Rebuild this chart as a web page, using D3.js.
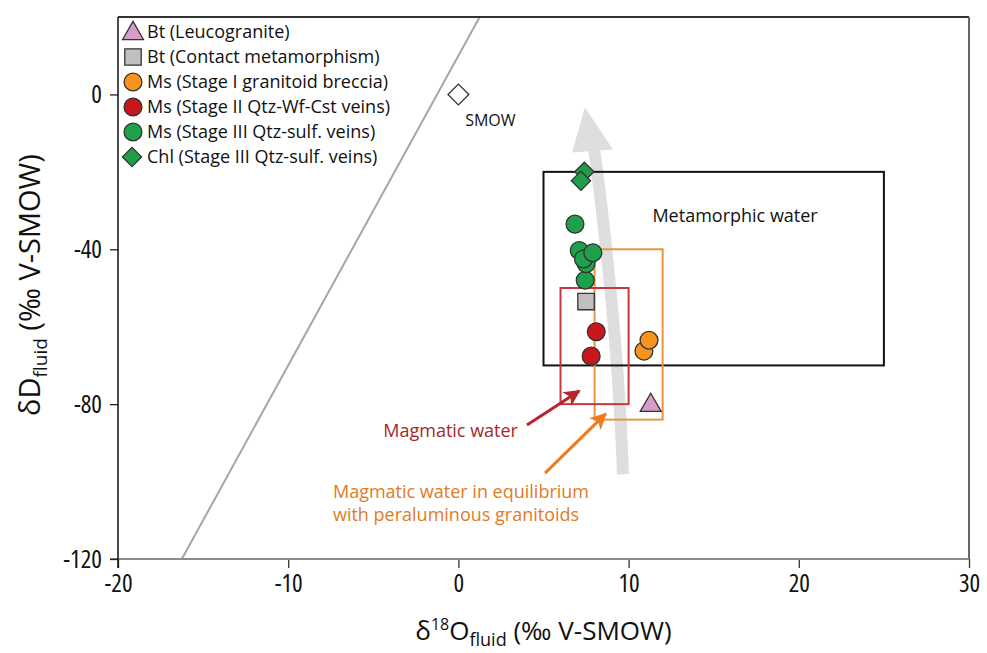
<!DOCTYPE html>
<html>
<head>
<meta charset="utf-8">
<script src="https://cdn.jsdelivr.net/npm/d3@7"></script>
<style>
  body { margin: 0; background: #fff; }
  text { font-family: "Open Sans", "Noto Sans", sans-serif; }
  .narrow { font-stretch: 85%; }
</style>
</head>
<body>
<script>
const margin = {top: 17, right: 18, bottom: 94, left: 118};
const width = 987 - margin.left - margin.right;
const height = 653 - margin.top - margin.bottom;

// data (δ18O fluid, δD fluid)
const leucogranite = [[11.3, -80.3]];
const contactMeta = [[7.5, -53.5]];
const stage1Ms = [[10.9, -66.3], [11.2, -63.5]];
const stage2Ms = [[8.1, -61.3], [7.8, -67.6]];
const stage3Ms = [[6.85, -33.5], [7.1, -40.3], [7.45, -48.0], [7.5, -43.7], [7.35, -42.5], [7.9, -40.9]];
const stage3Chl = [[7.4, -20.0], [7.2, -22.3]];
const smow = [[0, 0]];

const xTicks = [-20, -10, 0, 10, 20, 30];
const yTicks = [0, -40, -80, -120];

// reference fields [x0, x1, y0, y1]
const metamorphicBox = [5, 25, -70, -20];
const magmaticBox = [6, 10, -80, -50];
const peraluminousBox = [8, 12, -84, -40];
const meteoricLine = [[-16.25, -120], [1.25, 20]];
const trendShaft = [[9.67, -98.1], [9.49, -79], [9.02, -53.2], [8.38, -27.4], [7.97, -14.0]];
const trendHead = [[7.44, -3.4], [6.67, -15.0], [9.08, -14.2]];
const magmaticArrow = [[4.03, -85.4], [7.1, -76.6]];
const peraluminousArrow = [[5.09, -97.8], [8.65, -82.5]];

const legendItems = [
  {label: "Bt (Leucogranite)", shape: "triangle", fill: "#d79dc9"},
  {label: "Bt (Contact metamorphism)", shape: "square", fill: "#c0c0c0"},
  {label: "Ms (Stage I granitoid breccia)", shape: "circle", fill: "#f7941d"},
  {label: "Ms (Stage II Qtz-Wf-Cst veins)", shape: "circle", fill: "#c8161d"},
  {label: "Ms (Stage III Qtz-sulf. veins)", shape: "circle", fill: "#1fa04c"},
  {label: "Chl (Stage III Qtz-sulf. veins)", shape: "diamond", fill: "#1f9e4a"}
];

let svg = d3.select("body").append("svg")
  .attr("width", 987)
  .attr("height", 653);

let x = d3.scaleLinear().domain([-20, 30]).range([margin.left, margin.left + width]);
let y = d3.scaleLinear().domain([-120, 20]).range([margin.top + height, margin.top]);

// diamonds are squares turned 45 degrees
let symbols = {
  triangle: {gen: d3.symbol().type(d3.symbolTriangle).size(190), rot: 0},
  square: {gen: d3.symbol().type(d3.symbolSquare).size(270), rot: 0},
  circle: {gen: d3.symbol().type(d3.symbolCircle).size(250), rot: 0},
  diamond: {gen: d3.symbol().type(d3.symbolSquare).size(185), rot: 45},
  openDiamond: {gen: d3.symbol().type(d3.symbolSquare).size(215), rot: 45}
};

// meteoric water line
svg.append("line")
  .attr("x1", x(meteoricLine[0][0])).attr("y1", y(meteoricLine[0][1]))
  .attr("x2", x(meteoricLine[1][0])).attr("y2", y(meteoricLine[1][1]))
  .attr("stroke", "#a6a6a6").attr("stroke-width", 2);

// grey trend arrow
svg.append("path")
  .attr("d", d3.line().x(d => x(d[0])).y(d => y(d[1])).curve(d3.curveBasis)(trendShaft))
  .attr("fill", "none").attr("stroke", "#dedede").attr("stroke-width", 12);
svg.append("path")
  .attr("d", "M" + trendHead.map(d => x(d[0]) + "," + y(d[1])).join("L") + "Z")
  .attr("fill", "#dedede");

let box = function(b, color, w){
  svg.append("rect")
    .attr("x", x(b[0])).attr("y", y(b[3]))
    .attr("width", x(b[1]) - x(b[0]))
    .attr("height", y(b[2]) - y(b[3]))
    .attr("fill", "none").attr("stroke", color).attr("stroke-width", w);
}
box(metamorphicBox, "#111", 2);
box(peraluminousBox, "#e6963f", 2);
box(magmaticBox, "#c23a3e", 2);

// annotation arrows
let defs = svg.append("defs");
[["redHead", "#b8262c"], ["orangeHead", "#ee7b1f"]].forEach(function(m){
  defs.append("marker")
    .attr("id", m[0])
    .attr("viewBox", "0 0 10 10")
    .attr("refX", 9).attr("refY", 5)
    .attr("markerWidth", 6.5).attr("markerHeight", 5.5)
    .attr("markerUnits", "strokeWidth")
    .attr("orient", "auto")
    .append("path").attr("d", "M0,0L10,5L0,10L2.5,5Z").attr("fill", m[1]);
});
svg.append("line")
  .attr("x1", x(magmaticArrow[0][0])).attr("y1", y(magmaticArrow[0][1]))
  .attr("x2", x(magmaticArrow[1][0])).attr("y2", y(magmaticArrow[1][1]))
  .attr("stroke", "#b8262c").attr("stroke-width", 3)
  .attr("marker-end", "url(#redHead)");
svg.append("line")
  .attr("x1", x(peraluminousArrow[0][0])).attr("y1", y(peraluminousArrow[0][1]))
  .attr("x2", x(peraluminousArrow[1][0])).attr("y2", y(peraluminousArrow[1][1]))
  .attr("stroke", "#ee7b1f").attr("stroke-width", 3)
  .attr("marker-end", "url(#orangeHead)");

svg.append("text")
  .attr("x", x(11.4)).attr("y", y(-33))
  .attr("font-size", 18).attr("fill", "#111")
  .text("Metamorphic water");
svg.append("text")
  .attr("x", x(3.5)).attr("y", y(-88.5))
  .attr("text-anchor", "end")
  .attr("font-size", 18).attr("fill", "#a8262c")
  .text("Magmatic water");
let orangeText = svg.append("text")
  .attr("font-size", 18).attr("fill", "#e27a26");
orangeText.append("tspan").attr("x", x(-7.37)).attr("y", y(-104.3)).text("Magmatic water in equilibrium");
orangeText.append("tspan").attr("x", x(-7.37)).attr("y", y(-110.2)).text("with peraluminous granitoids");

// frame and axes
svg.append("line")
  .attr("x1", x(-20)).attr("x2", x(30)).attr("y1", y(20)).attr("y2", y(20))
  .attr("stroke", "#333").attr("stroke-width", 2);
svg.append("line")
  .attr("x1", x(30)).attr("x2", x(30)).attr("y1", y(20)).attr("y2", y(-120))
  .attr("stroke", "#666").attr("stroke-width", 2);

let xAxis = svg.append("g")
  .attr("transform", "translate(0," + y(-120) + ")")
  .call(d3.axisBottom(x).tickValues(xTicks).tickSize(9).tickPadding(6).tickFormat(d => String(d)));
xAxis.select(".domain").remove();
xAxis.selectAll(".tick line").attr("stroke", "#333").attr("stroke-width", 1.3);
xAxis.selectAll(".tick text").attr("font-size", 25).attr("fill", "#111").attr("class", "narrow")
  .style("font-family", "'Open Sans', sans-serif");
svg.append("line")
  .attr("x1", margin.left - 8).attr("x2", x(30)).attr("y1", y(-120)).attr("y2", y(-120))
  .attr("stroke", "#8c8c8c").attr("stroke-width", 2);

let yAxis = svg.append("g")
  .attr("transform", "translate(" + x(-20) + ",0)")
  .call(d3.axisLeft(y).tickValues(yTicks).tickSize(8).tickPadding(8).tickFormat(d => String(d)));
yAxis.select(".domain").remove();
yAxis.selectAll(".tick line").attr("stroke", "#222").attr("stroke-width", 1.3);
yAxis.selectAll(".tick text").attr("font-size", 25).attr("fill", "#111").attr("class", "narrow")
  .style("font-family", "'Open Sans', sans-serif");
svg.append("line")
  .attr("x1", x(-20)).attr("x2", x(-20)).attr("y1", y(20)).attr("y2", y(-120) + 9)
  .attr("stroke", "#111").attr("stroke-width", 1.5);

// axis titles
let xTitle = svg.append("text")
  .attr("x", margin.left + width / 2).attr("y", 640)
  .attr("text-anchor", "middle").attr("font-size", 26).attr("fill", "#111");
xTitle.append("tspan").text("δ");
xTitle.append("tspan").attr("font-size", 16).attr("dy", -10).text("18");
xTitle.append("tspan").attr("dy", 10).text("O");
xTitle.append("tspan").attr("font-size", 18).attr("dy", 6).text("fluid");
xTitle.append("tspan").attr("dy", -6).text(" (‰ V-SMOW)");

let yTitle = svg.append("text")
  .attr("transform", "translate(40," + 285 + ") rotate(-90)")
  .attr("text-anchor", "middle").attr("font-size", 29).attr("fill", "#111");
yTitle.append("tspan").text("δD");
yTitle.append("tspan").attr("font-size", 19).attr("dy", 7).text("fluid");
yTitle.append("tspan").attr("dy", -7).text(" (‰ V-SMOW)");

// data points
let plotPoints = function(data, shape, fill){
  svg.append("g").selectAll("path")
    .data(data)
    .join("path")
    .attr("transform", d => "translate(" + x(d[0]) + "," + y(d[1]) + ") rotate(" + symbols[shape].rot + ")")
    .attr("d", symbols[shape].gen)
    .attr("fill", fill)
    .attr("stroke", "#333").attr("stroke-width", 1.3);
}
plotPoints(smow, "openDiamond", "#fff");
plotPoints(stage3Chl, "diamond", legendItems[5].fill);
plotPoints(stage3Ms, "circle", legendItems[4].fill);
plotPoints(contactMeta, "square", legendItems[1].fill);
plotPoints(stage2Ms, "circle", legendItems[3].fill);
plotPoints(stage1Ms, "circle", legendItems[2].fill);
plotPoints(leucogranite, "triangle", legendItems[0].fill);

svg.append("text")
  .attr("x", x(0.4)).attr("y", y(-8.2))
  .attr("font-size", 16).attr("fill", "#111")
  .text("SMOW");

// legend
let legend = svg.append("g").attr("transform", "translate(133,32)");
let rows = legend.selectAll("g").data(legendItems).join("g")
  .attr("transform", (d, i) => "translate(0," + i * 25 + ")");
rows.append("path")
  .attr("d", d => symbols[d.shape].gen())
  .attr("transform", d => d.shape == "triangle" ? "translate(0,1.5)" : (d.shape == "diamond" ? "translate(-1,0) rotate(45)" : null))
  .attr("fill", d => d.fill)
  .attr("stroke", "#333").attr("stroke-width", 1.3);
rows.append("text")
  .attr("x", 14).attr("dy", "0.35em")
  .attr("font-size", 18).attr("fill", "#111")
  .text(d => d.label);
</script>
</body>
</html>
